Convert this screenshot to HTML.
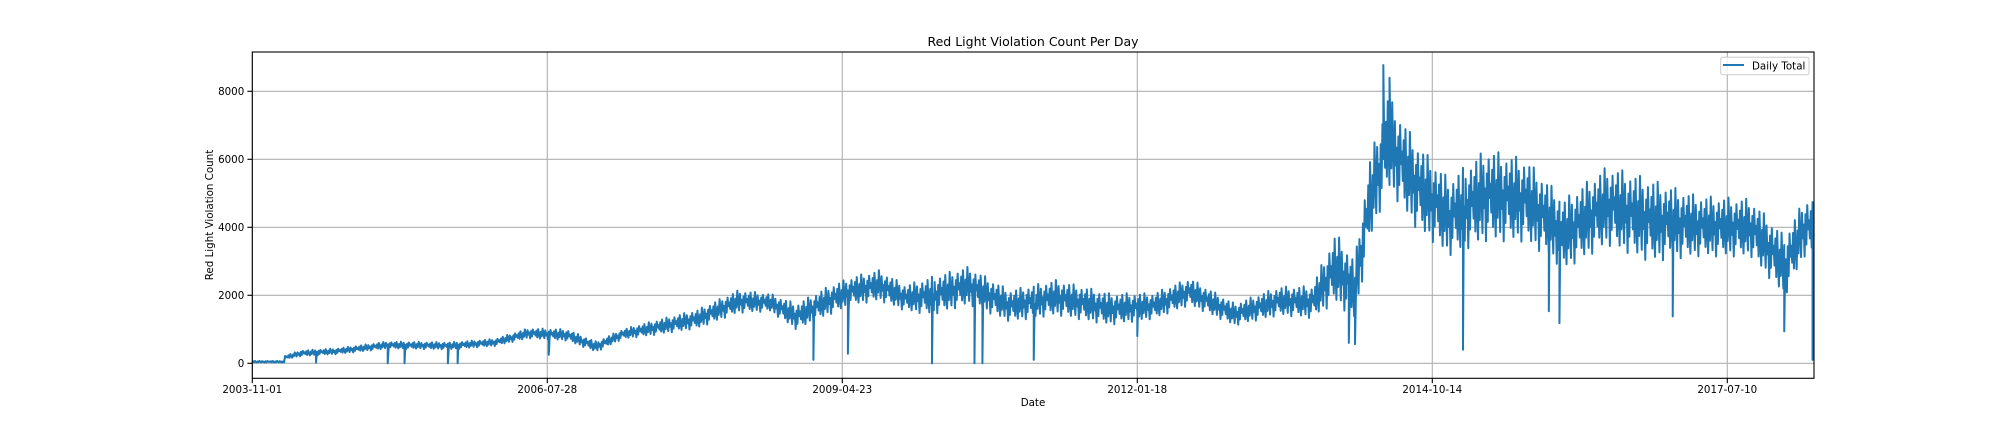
<!DOCTYPE html>
<html><head><meta charset="utf-8"><style>
html,body{margin:0;padding:0;background:#fff;}
svg{display:block;font-family:"DejaVu Sans","Liberation Sans",sans-serif;}
</style></head><body>
<svg id="chart" width="2016" height="432" viewBox="0 0 2016 432" xmlns="http://www.w3.org/2000/svg">
<rect x="0" y="0" width="2016" height="432" fill="#fff"/>
<g id="grid"></g>
<g id="series"></g>
<g id="axes"></g>
<text x="1033" y="46" font-size="12.5" text-anchor="middle" fill="#000">Red Light Violation Count Per Day</text>
<text x="1033" y="406" font-size="10.3" text-anchor="middle" fill="#000">Date</text>
<text x="0" y="0" transform="translate(213,215) rotate(-90)" font-size="10.3" text-anchor="middle" fill="#000">Red Light Violation Count</text>
<g>
<rect x="1720.7" y="57.3" width="88.3" height="17.4" rx="2" fill="#fff" fill-opacity="0.8" stroke="#ccc" stroke-width="1"/>
<line x1="1723" y1="65" x2="1744" y2="65" stroke="#1f77b4" stroke-width="2"/>
<text x="1752" y="69.5" font-size="10.3" fill="#000">Daily Total</text>
</g>
</svg>
<script>
// Data: days since 2003-11-01
const binStart = [0,111,218,354,560,783,862,1009,1122,1210,1300,1440,1575,1720,1790,1900,2000,2070,2180,2250,2360,2495,2640,2810,3000,3110,3245,3415,3550,3635,3710,3765,3810,3890,4000,4115,4250,4385,4510,4680,4795,5000,5160,5230];
const binLow  = [20,200,260,420,400,500,720,650,320,700,820,1000,1450,1500,950,1370,1670,1800,1500,1370,1670,1180,1370,1080,1270,1670,1080,1370,1280,1670,1180,3450,5020,3840,3050,3450,3450,2660,3350,2860,3050,3050,1870,3050];
const binHigh = [70,380,440,640,620,720,1030,1000,640,1000,1270,1570,2150,2050,1750,2250,2550,2740,2300,2550,2840,2150,2450,2060,2060,2500,1760,2250,2270,3840,3050,6000,7880,6500,5420,6300,6000,4830,5810,5420,4930,4830,3740,4830];
const seriesEnd = 5292;
const spikeDay = [218,460,517,663,697,1006,1902,2020,2304,2450,2475,2650,3000,3718,3740,3835,3855,4106,4395,4432,4815,5195,5290];
const spikeVal = [20,0,0,0,0,250,100,280,0,0,0,100,800,600,560,8770,8400,400,1530,1180,1380,940,100];
const xTickDays = [0,1000,2000,3000,4000,5000];
const xTickLabels = ["2003-11-01","2006-07-28","2009-04-23","2012-01-18","2014-10-14","2017-07-10"];
const yTicks = [0,2000,4000,6000,8000];

const L=252.3,R=1814,T=52,B=378.3;
const xs = d => L + d*0.295;
const ys = v => 363.3 - v*0.034;
const NS="http://www.w3.org/2000/svg";
const grid=document.getElementById('grid'), axes=document.getElementById('axes'), series=document.getElementById('series');
function mk(tag, attrs, parent){const e=document.createElementNS(NS,tag);for(const k in attrs)e.setAttribute(k,attrs[k]);parent.appendChild(e);return e;}

xTickDays.forEach((d,i)=>{
  const x=xs(d);
  const g=mk('line',{x1:x,y1:T,x2:x,y2:B,stroke:'#b0b0b0','stroke-width':1.1},grid);
  
  
  const t=mk('line',{x1:x,y1:B,x2:x,y2:B+4.9,stroke:'#000','stroke-width':1.1},axes);
  
  
  const lb=mk('text',{x:x,y:393,'font-size':10.3,'text-anchor':'middle',fill:'#000'},axes);
  
  
  lb.textContent=xTickLabels[i];
});
yTicks.forEach(v=>{
  const y=ys(v);
  const g=mk('line',{x1:L,y1:y,x2:R,y2:y,stroke:'#b0b0b0','stroke-width':1.1},grid);
  
  
  const t=mk('line',{x1:L-4.9,y1:y,x2:L,y2:y,stroke:'#000','stroke-width':1.1},axes);
  
  
  const lb=mk('text',{x:L-8,y:y+3.7,'font-size':10.3,'text-anchor':'end',fill:'#000'},axes);
  
  
  lb.textContent=String(v);
});
const frame=mk('rect',{x:L,y:T,width:R-L,height:B-T,fill:'none',stroke:'#000','stroke-width':1.1},axes);



// band interpolated between bin centers
const centers=binStart.map((s,i)=>(s+(i+1<binStart.length?binStart[i+1]:seriesEnd))/2);
function band(arr,d){
  if(d<=centers[0]) return arr[0];
  for(let i=0;i<centers.length-1;i++){
    if(d<=centers[i+1]){
      // keep sharp jumps where the series really steps (small transition)
      const t=(d-centers[i])/(centers[i+1]-centers[i]);
      return arr[i]+(arr[i+1]-arr[i])*t;
    }
  }
  return arr[arr.length-1];
}
const pat=[0.35,0.8,0.2,0.95,0.45,0.1,0.7,0.3,1,0.55,0.15,0.85,0.4,0.6,0.05,0.75,0.25,0.9,0.5,0.65];
const pts=[];let k=0;
const step=3;
for(let d=0; d<=seriesEnd; d+=step){
  const lo=d<111?binLow[0]:band(binLow,d), hi=d<111?binHigh[0]:band(binHigh,d);
  const f=pat[k++%pat.length];
  let v=lo+(hi-lo)*f;
  for(let s=0;s<spikeDay.length;s++){ if(spikeDay[s]>=d && spikeDay[s]<d+step){ pts.push([xs(d),ys(v)]); v=spikeVal[s]; } }
  pts.push([xs(d),ys(v)]);
}
const pl=mk('polyline',{points:pts.map(p=>p[0].toFixed(2)+','+p[1].toFixed(2)).join(' '),fill:'none',stroke:'#1f77b4','stroke-width':2,'stroke-linejoin':'round'},series);


</script>
</body></html>
